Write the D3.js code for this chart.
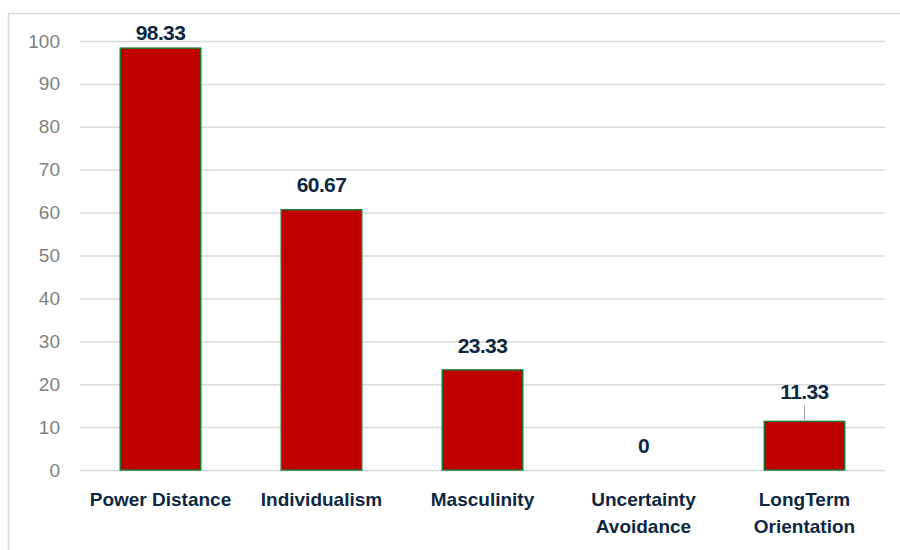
<!DOCTYPE html>
<html>
<head>
<meta charset="utf-8">
<script src="https://d3js.org/d3.v7.min.js"></script>
<style>
  body { margin: 0; background: #fff; }
  .tick text { font-family: "Liberation Sans", Arial, sans-serif; font-size: 19px; fill: #7f7f7f; }
  .val { font-family: "Liberation Sans", Arial, sans-serif; font-weight: bold; font-size: 21px; fill: #0e2841; letter-spacing: -0.6px; }
  .cat { font-family: "Liberation Sans Narrow", "Liberation Sans", Arial, sans-serif; font-weight: bold; font-size: 19px; fill: #0e2841; }
</style>
</head>
<body>
<svg width="900" height="550"></svg>
<script>
var categories = [["Power Distance"], ["Individualism"], ["Masculinity"], ["Uncertainty", "Avoidance"], ["LongTerm", "Orientation"]];
var values = [98.33, 60.67, 23.33, 0, 11.33];
var valueLabels = ["98.33", "60.67", "23.33", "0", "11.33"];
var yTicks = [0, 10, 20, 30, 40, 50, 60, 70, 80, 90, 100];

var svg = d3.select("svg");

// chart frame
svg.append("path")
    .attr("d", "M8.5,560 V13.5 H900")
    .attr("fill", "none")
    .attr("stroke", "#d9d9d9")
    .attr("stroke-width", 1.5);

var x = d3.scaleBand()
    .domain(d3.range(values.length))
    .range([80, 885])
    .paddingInner(0.5)
    .paddingOuter(0.25);

var y = d3.scaleLinear().domain([0, 100]).range([470, 41]);

// gridlines + tick labels
var yAxis = svg.append("g")
    .attr("transform", "translate(80,0)")
    .call(d3.axisLeft(y).tickValues(yTicks).tickSize(-805).tickPadding(20));
yAxis.select(".domain").remove();
yAxis.selectAll(".tick line").attr("stroke", "#d9d9d9").attr("stroke-width", 1.5);

// bars
svg.selectAll(".bar")
    .data(values)
    .enter().append("rect")
    .attr("class", "bar")
    .attr("x", function(d, i) { return x(i); })
    .attr("width", x.bandwidth())
    .attr("y", function(d) { return y(d); })
    .attr("height", function(d) { return y(0) - y(d); })
    .attr("fill", "#c00000")
    .attr("stroke", function(d) { return d > 0 ? "#1e7b34" : "none"; })
    .attr("stroke-width", 1.5);

// value labels
var labelOffset = [8, 18, 17, 0, 22];
svg.selectAll(".val")
    .data(values)
    .enter().append("text")
    .attr("class", "val")
    .attr("text-anchor", "middle")
    .attr("x", function(d, i) { return x(i) + x.bandwidth() / 2; })
    .attr("y", function(d, i) {
        if (d === 0) return y(0) - 17;
        return y(d) - labelOffset[i];
    })
    .text(function(d, i) { return valueLabels[i]; });

// leader line for the last label
svg.append("line")
    .attr("x1", x(4) + x.bandwidth() / 2)
    .attr("x2", x(4) + x.bandwidth() / 2)
    .attr("y1", y(values[4]) - 16)
    .attr("y2", y(values[4]) - 1)
    .attr("stroke", "#a6a6a6")
    .attr("stroke-width", 1);

// category labels
var cats = svg.selectAll(".cat")
    .data(categories)
    .enter().append("text")
    .attr("class", "cat")
    .attr("text-anchor", "middle")
    .attr("x", function(d, i) { return x(i) + x.bandwidth() / 2; })
    .attr("y", 506);
cats.selectAll("tspan")
    .data(function(d) { return d; })
    .enter().append("tspan")
    .attr("x", function() { return d3.select(this.parentNode).attr("x"); })
    .attr("dy", function(d, j) { return j === 0 ? 0 : 27; })
    .text(function(d) { return d; });
</script>
</body>
</html>
